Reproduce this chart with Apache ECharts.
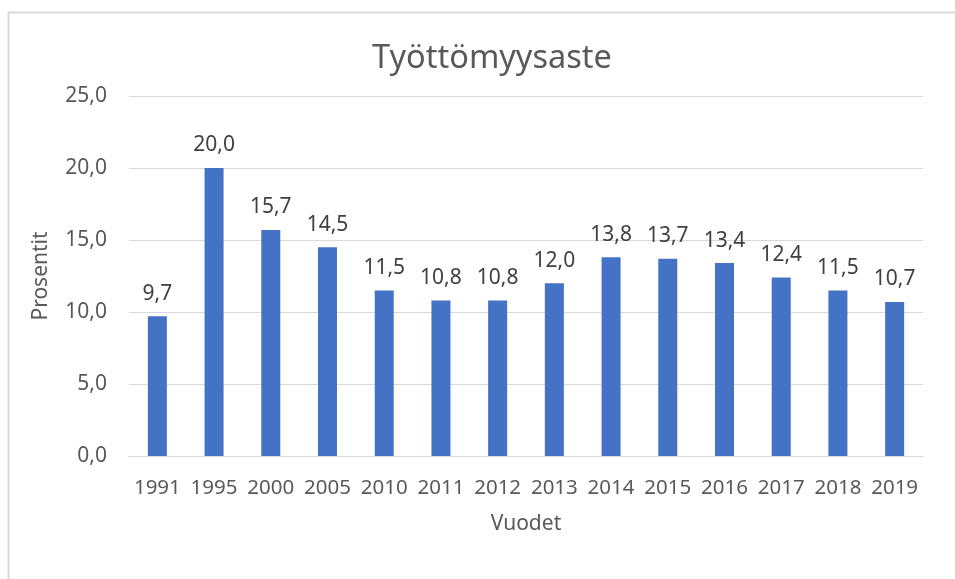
<!DOCTYPE html>
<html>
<head>
<meta charset="utf-8">
<script src="https://cdn.jsdelivr.net/npm/echarts@6/dist/echarts.min.js"></script>
<style>
	html, body { margin: 0; padding: 0; background: #fff; }
	#chart { width: 955px; height: 579px; }
</style>
</head>
<body>
<div id="chart"></div>
<script>
// vuodet ja työttömyysaste (%)
const years = ['1991', '1995', '2000', '2005', '2010', '2011', '2012', '2013', '2014', '2015', '2016', '2017', '2018', '2019'];
const rates = [9.7, 20.0, 15.7, 14.5, 11.5, 10.8, 10.8, 12.0, 13.8, 13.7, 13.4, 12.4, 11.5, 10.7];
const yTicks = { min: 0, max: 25, interval: 5 };

const textColor = '#595959';
const fontFamily = "'Noto Sans', sans-serif";
const fmt = v => Number(v).toFixed(1).replace('.', ',');

const chart = echarts.init(document.getElementById('chart'), null, { renderer: 'canvas' });
const option = {
	backgroundColor: '#fff',
	animation: false,
	textStyle: { fontFamily: fontFamily },
	title: {
		text: 'Työttömyysaste',
		left: 487,
		top: 37,
		textAlign: 'center',
		textStyle: { color: textColor, fontSize: 32.5, fontWeight: 'normal', fontFamily: fontFamily },
	},
	graphic: [
		{
			type: 'polyline',
			shape: { points: [[8.5, 579], [8.5, 12.5], [955, 12.5]] },
			style: { stroke: '#d9d9d9', lineWidth: 2, fill: null },
			silent: true,
		},
	],
	grid: { left: 129, right: 32, top: 96, bottom: 123 },
	xAxis: {
		type: 'category',
		data: years,
		name: 'Vuodet',
		nameLocation: 'middle',
		nameGap: 58,
		nameTextStyle: { color: textColor, fontSize: 21 },
		axisLine: { lineStyle: { color: '#d9d9d9', width: 1 } },
		axisTick: { show: false },
		axisLabel: { color: textColor, fontSize: 20.5, margin: 22, interval: 0 },
	},
	yAxis: {
		type: 'value',
		min: yTicks.min,
		max: yTicks.max,
		interval: yTicks.interval,
		name: 'Prosentit',
		nameLocation: 'middle',
		nameGap: 77,
		nameTextStyle: { color: textColor, fontSize: 21 },
		axisLine: { show: false },
		axisTick: { show: false },
		splitLine: { lineStyle: { color: '#d9d9d9' } },
		axisLabel: { color: textColor, fontSize: 21, margin: 22, formatter: fmt },
	},
	series: [
		{
			type: 'bar',
			data: rates,
			barWidth: 19,
			itemStyle: { color: '#4472C4' },
			label: {
				show: true,
				position: 'top',
				distance: 12,
				color: '#404040',
				fontSize: 21,
				formatter: p => fmt(p.value),
			},
		},
	],
};
chart.setOption(option);
</script>
</body>
</html>
